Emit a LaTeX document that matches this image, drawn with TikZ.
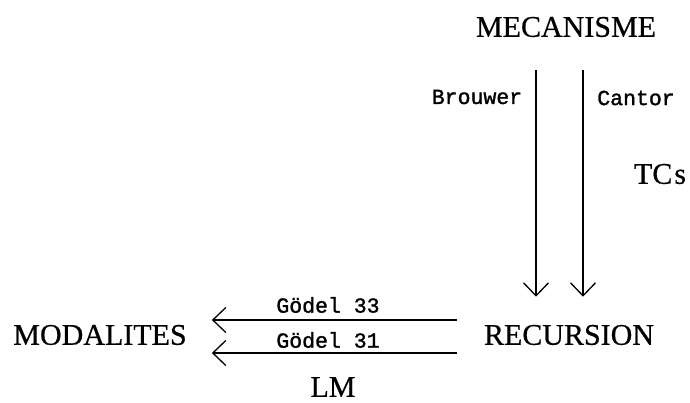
\documentclass[tikz,border=0pt]{standalone}
\usepackage{fontspec}
\setmainfont{Liberation Serif}[FakeBold=0.6]
\newfontfamily\codefont{Liberation Mono}[FakeBold=1.4]
\usetikzlibrary{arrows.meta}

\begin{document}
\begin{tikzpicture}[
  x=1pt, y=-1pt,
  concept/.style={
    inner sep=0pt, anchor=center,
    font=\fontsize{30}{32}\selectfont
  },
  author/.style={
    inner sep=0pt, anchor=center,
    font=\codefont\fontsize{21.5}{23}\selectfont
  },
  arrow/.style={
    line width=1.6pt,
    -{Straight Barb[length=13pt, width=25pt, line width=1.3pt]}
  }
]
\useasboundingbox (0,0) rectangle (690,403);

% =====================================================
% CONCEPTS
% =====================================================

\node[concept] (mecanisme) at (566,27) {MECANISME};
\node[concept] (recursion) at (569,335) {RECURSION};
\node[concept] (modalites) at (100,335) {MODALITES};
\node[concept] (tcs) at (660,174) {TC\hspace{2pt}s};
\node[concept] (lm) at (333,387) {LM};

% =====================================================
% MECANISME TO RECURSION
% =====================================================

\draw[arrow, shorten <=33pt, shorten >=28pt]
  ([xshift=-30]mecanisme.south) -- ([xshift=-33]recursion.north);
\draw[arrow, shorten <=33pt, shorten >=28pt]
  ([xshift=17]mecanisme.south) -- ([xshift=14]recursion.north);

\node[author] (brouwer) at (477,97) {Brouwer};
\node[author] (cantor) at (636,98) {Cantor};

% =====================================================
% RECURSION TO MODALITES
% =====================================================

\draw[arrow, shorten <=27pt, shorten >=25pt]
  ([yshift=15]recursion.west) -- ([yshift=15]modalites.east);
\draw[arrow, shorten <=27pt, shorten >=25pt]
  ([yshift=-18]recursion.west) -- ([yshift=-18]modalites.east);

\node[author] (godel33) at (328,305) {Gödel 33};
\node[author] (godel31) at (328,340) {Gödel 31};

\end{tikzpicture}
\end{document}
